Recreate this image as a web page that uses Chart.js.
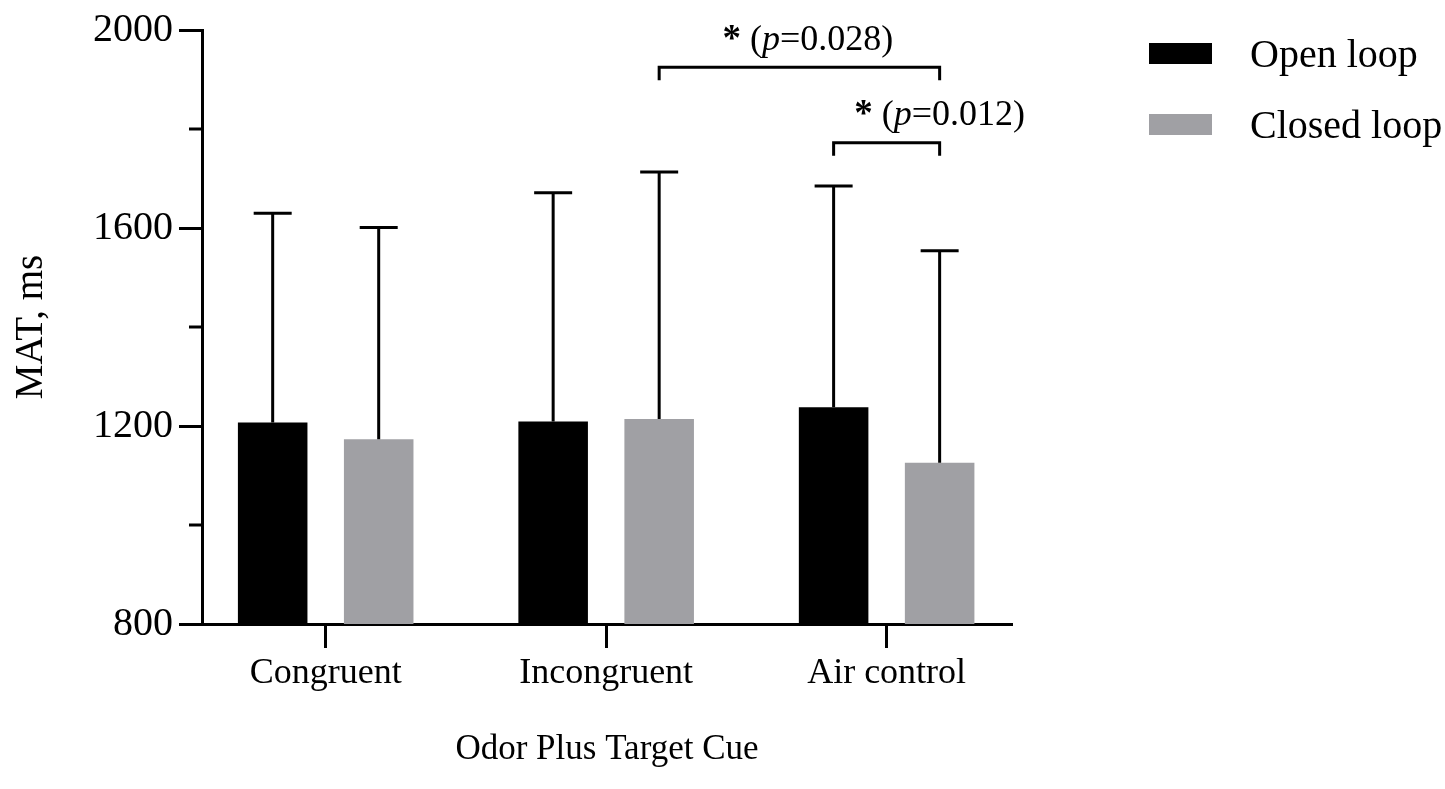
<!DOCTYPE html>
<html>
<head>
<meta charset="utf-8">
<script src="https://cdn.jsdelivr.net/npm/chart.js@4.4.1/dist/chart.umd.min.js"></script>
<style>
  html, body { margin: 0; padding: 0; background: #fff; }
  #wrap { width: 1445px; height: 789px; position: relative; }
</style>
</head>
<body>
<div id="wrap"><canvas id="chart"></canvas></div>
<script>
// données
const categories = ["Congruent", "Incongruent", "Air control"];
const seriesNames = ["Open loop", "Closed loop"];
const openLoopMean = [1207, 1209, 1238];
const closedLoopMean = [1173, 1214, 1126];
const openLoopSD = [423, 462, 447];
const closedLoopSD = [428, 499, 428];
const yTickLabels = [800, 1200, 1600, 2000];
// comparaisons significatives : [catégorie, série] -> [catégorie, série]
const sigFrom = [[1, 1], [2, 0]];
const sigTo = [[2, 1], [2, 1]];
const sigP = ["0.028", "0.012"];

const FONT = "'Liberation Serif', 'Times New Roman', serif";

// barres d'erreur (moyenne + SD)
const errorBarsPlugin = {
  id: "errorBars",
  afterDatasetsDraw(chart) {
    const ctx = chart.ctx;
    const y = chart.scales.y;
    ctx.save();
    ctx.strokeStyle = "#000";
    ctx.lineWidth = 3;
    chart.data.datasets.forEach((ds, di) => {
      const meta = chart.getDatasetMeta(di);
      meta.data.forEach((bar, i) => {
        const top = y.getPixelForValue(ds.data[i].y + ds.sd[i]);
        ctx.beginPath();
        ctx.moveTo(bar.x, bar.y);
        ctx.lineTo(bar.x, top);
        ctx.moveTo(bar.x - 19, top);
        ctx.lineTo(bar.x + 19, top);
        ctx.stroke();
      });
    });
    ctx.restore();
  },
};

// petites graduations intermédiaires de l'axe y
const minorTicksPlugin = {
  id: "minorTicks",
  afterDraw(chart) {
    const ctx = chart.ctx;
    const y = chart.scales.y;
    const left = chart.chartArea.left;
    ctx.save();
    ctx.strokeStyle = "#000";
    ctx.lineWidth = 3;
    y.ticks.forEach((t) => {
      if (yTickLabels.includes(t.value)) return;
      const py = y.getPixelForValue(t.value);
      ctx.beginPath();
      ctx.moveTo(left - 13, py);
      ctx.lineTo(left, py);
      ctx.stroke();
    });
    ctx.restore();
  },
};

// crochets de significativité
const bracketsPlugin = {
  id: "brackets",
  afterDraw(chart, args, opts) {
    const ctx = chart.ctx;
    const y = chart.scales.y;
    ctx.save();
    ctx.strokeStyle = "#000";
    ctx.fillStyle = "#000";
    ctx.lineWidth = 3;
    sigP.forEach((p, k) => {
      const a = chart.getDatasetMeta(sigFrom[k][1]).data[sigFrom[k][0]];
      const b = chart.getDatasetMeta(sigTo[k][1]).data[sigTo[k][0]];
      const ly = y.getPixelForValue(opts.levels[k]);
      ctx.beginPath();
      ctx.moveTo(a.x, ly + 13);
      ctx.lineTo(a.x, ly);
      ctx.lineTo(b.x, ly);
      ctx.lineTo(b.x, ly + 13);
      ctx.stroke();

      const parts = [
        ["*", "bold 37px " + FONT],
        [" (", "36px " + FONT],
        ["p", "italic 36px " + FONT],
        ["=" + p + ")", "36px " + FONT],
      ];
      let total = 0;
      parts.forEach(([t, f]) => { ctx.font = f; total += ctx.measureText(t).width; });
      let tx = a.x + (b.x - a.x) * opts.textPos[k] - total / 2;
      const ty = y.getPixelForValue(opts.textLevels[k]);
      ctx.textBaseline = "alphabetic";
      ctx.textAlign = "left";
      parts.forEach(([t, f]) => {
        ctx.font = f;
        ctx.fillText(t, tx, ty);
        tx += ctx.measureText(t).width;
      });
    });
    ctx.restore();
  },
};

// légende à droite
const legendPlugin = {
  id: "sideLegend",
  afterDraw(chart) {
    const ctx = chart.ctx;
    ctx.save();
    ctx.font = "40px " + FONT;
    ctx.textBaseline = "alphabetic";
    ctx.textAlign = "left";
    const tops = [43, 114];
    chart.data.datasets.forEach((ds, i) => {
      ctx.fillStyle = ds.backgroundColor;
      ctx.fillRect(1149, tops[i], 63, 21);
      ctx.fillStyle = "#000";
      ctx.fillText(ds.label, 1250, tops[i] + 24);
    });
    ctx.restore();
  },
};

new Chart(document.getElementById("chart"), {
  type: "bar",
  data: {
    datasets: [
      {
        label: seriesNames[0],
        data: categories.map((c, i) => ({ x: i + 1, y: openLoopMean[i] })),
        sd: openLoopSD,
        backgroundColor: "#000000",
      },
      {
        label: seriesNames[1],
        data: categories.map((c, i) => ({ x: i + 1, y: closedLoopMean[i] })),
        sd: closedLoopSD,
        backgroundColor: "#a0a0a4",
      },
    ],
  },
  options: {
    responsive: true,
    maintainAspectRatio: false,
    animation: false,
    barPercentage: 0.656,
    categoryPercentage: 0.756,
    layout: { padding: { top: 30, right: 433, left: 0, bottom: 0 } },
    plugins: {
      legend: { display: false },
      tooltip: { enabled: false },
      brackets: { levels: [1925, 1772], textLevels: [1960, 1808], textPos: [0.53, 1.0] },
    },
    scales: {
      x: {
        type: "linear",
        min: 0.559,
        max: 3.447,
        offset: false,
        afterFit: (scale) => { scale.height = 165; },
        ticks: {
          stepSize: 1,
          includeBounds: false,
          autoSkip: false,
          maxRotation: 0,
          padding: 4,
          color: "#000",
          font: { family: FONT, size: 36 },
          callback: (v) => categories[v - 1] || "",
        },
        grid: { offset: false, drawOnChartArea: false, tickLength: 24, tickWidth: 3, tickColor: "#000" },
        border: { display: true, color: "#000", width: 3 },
        title: {
          display: true,
          text: "Odor Plus Target Cue",
          color: "#000",
          font: { family: FONT, size: 35 },
          padding: { top: 0, bottom: 18 },
        },
      },
      y: {
        min: 800,
        max: 2000,
        afterFit: (scale) => { scale.width = 202; },
        ticks: {
          stepSize: 200,
          padding: 6,
          color: "#000",
          font: { family: FONT, size: 40 },
          callback: (v) => (yTickLabels.includes(v) ? String(v) : ""),
        },
        grid: {
          drawOnChartArea: false,
          tickLength: 23,
          tickWidth: 3,
          tickColor: (c) => (c.tick && yTickLabels.includes(c.tick.value) ? "#000" : "rgba(0,0,0,0)"),
        },
        border: { display: true, color: "#000", width: 3 },
        title: {
          display: true,
          text: "MAT, ms",
          color: "#000",
          font: { family: FONT, size: 39 },
          padding: { top: 8, bottom: 0 },
        },
      },
    },
  },
  plugins: [errorBarsPlugin, minorTicksPlugin, bracketsPlugin, legendPlugin],
});
</script>
</body>
</html>
